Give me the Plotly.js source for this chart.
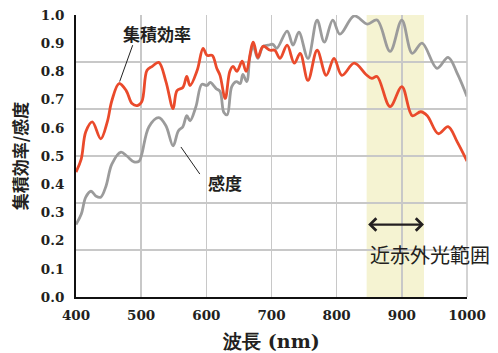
<!DOCTYPE html>
<html><head><meta charset="utf-8">
<script src="https://cdn.plot.ly/plotly-3.0.1.min.js"></script>
<style>html,body{margin:0;padding:0;background:#fff;}#chart{width:498px;height:353px;}</style>
</head><body><div id="chart"></div>
<script>
// 集積効率 (collection efficiency)
const effWavelength = [400,408,415,425,438,448,455,466,477,486,494,501,509,517,527,538,549,555,564,570,575,586,595,601,609,616,621,629,636,641,647,655,661,672,679,687,698,705,713,724,735,744,756,770,784,796,808,827,845,854,862,882,900,916,929,939,956,971,985,1000];
const effValues = [0.443,0.489,0.586,0.621,0.561,0.621,0.696,0.757,0.732,0.686,0.679,0.693,0.804,0.818,0.832,0.764,0.668,0.732,0.743,0.782,0.75,0.804,0.882,0.857,0.857,0.811,0.786,0.704,0.8,0.818,0.8,0.836,0.8,0.904,0.85,0.889,0.875,0.875,0.846,0.893,0.829,0.864,0.768,0.875,0.786,0.846,0.786,0.829,0.789,0.775,0.782,0.675,0.746,0.643,0.657,0.643,0.579,0.604,0.55,0.482];
// 感度 (sensitivity)
const sensWavelength = [400,408,415,423,431,438,446,455,469,478,489,497,501,512,527,538,549,557,564,570,575,584,593,601,606,615,621,627,632,639,646,652,656,662,667,672,679,687,695,702,708,724,733,742,756,770,781,794,805,827,847,862,882,900,916,931,954,971,985,1000];
const sensValues = [0.257,0.293,0.354,0.375,0.357,0.354,0.393,0.471,0.514,0.5,0.479,0.482,0.507,0.604,0.636,0.607,0.536,0.589,0.604,0.643,0.625,0.675,0.754,0.75,0.761,0.739,0.729,0.654,0.646,0.746,0.764,0.757,0.789,0.764,0.854,0.889,0.846,0.889,0.893,0.896,0.882,0.943,0.893,0.939,0.846,0.982,0.904,0.982,0.932,0.997,0.968,0.982,0.871,0.982,0.864,0.9,0.811,0.85,0.793,0.711];
const xTicks = [400,500,600,700,800,900,1000];
const yTicks = [0,0.1,0.2,0.3,0.4,0.5,0.6,0.7,0.8,0.9,1.0];
const nirBand = [846, 934];
const labels = {eff:'集積効率', sens:'感度', nir:'近赤外光範囲', xTitle:'波長 (nm)', yTitle:'集積効率/感度'};

const serif = 'DejaVu Serif';
const jp = 'Noto Sans CJK JP';
const ink = '#231f20';

const traces = [
  {x: sensWavelength, y: sensValues, type:'scatter', mode:'lines', name:labels.sens,
   line:{color:'#9b9b9b', width:2.8, shape:'spline', smoothing:1}},
  {x: effWavelength, y: effValues, type:'scatter', mode:'lines', name:labels.eff,
   line:{color:'#ea4a2b', width:2.8, shape:'spline', smoothing:1}},
  {x:[], y:[], yaxis:'y2', type:'scatter', showlegend:false}
];

const layout = {
  width:498, height:353,
  margin:{l:76, r:31, t:15, b:56},
  paper_bgcolor:'#fff', plot_bgcolor:'#fff',
  showlegend:false,
  xaxis:{range:[400,1000], tickvals:xTicks, showgrid:true, gridcolor:'#c8c8c8', gridwidth:1.6,
    zeroline:false, showline:true, linecolor:'#111', linewidth:2, ticks:'',
    ticklabelstandoff:5,
    tickfont:{family:serif, size:13.5, weight:'bold', color:ink},
    title:{text:labels.xTitle, font:{family:serif, size:19, weight:'bold', color:ink}, standoff:12}},
  yaxis:{range:[0,1.0], tickvals:yTicks, tickformat:'.1f', showgrid:false, zeroline:false,
    showline:true, linecolor:'#111', linewidth:2, ticks:'', ticklabelstandoff:7,
    tickfont:{family:serif, size:13.5, weight:'bold', color:ink},
    title:{text:labels.yTitle, font:{family:jp, size:17, weight:'bold', color:ink}, standoff:9}},
  yaxis2:{overlaying:'y', range:[0,1.0], tick0:0, dtick:1/6, showgrid:true, gridcolor:'#c8c8c8', gridwidth:1.6,
    showticklabels:false, zeroline:false, showline:false, ticks:''},
  shapes:[
    {type:'rect', xref:'x', yref:'paper', x0:nirBand[0], x1:nirBand[1], y0:0, y1:1,
     fillcolor:'#f5f3d2', line:{width:0}, layer:'below'},
    {type:'line', xref:'paper', yref:'paper', x0:1, x1:1, y0:0, y1:1, line:{color:'#c8c8c8', width:1.6}},
    {type:'line', xref:'x', yref:'y', x0:487, y0:0.893, x1:467, y1:0.764, line:{color:'#222', width:1}},
    {type:'line', xref:'x', yref:'y', x0:561, y0:0.532, x1:590, y1:0.436, line:{color:'#222', width:1}}
  ],
  annotations:[
    {x:524, y:0.936, xref:'x', yref:'y', text:labels.eff, showarrow:false,
     font:{family:jp, size:17, weight:'bold', color:ink}},
    {x:629, y:0.407, xref:'x', yref:'y', text:labels.sens, showarrow:false,
     font:{family:jp, size:17, weight:'bold', color:ink}},
    {x:nirBand[1], y:0.257, ax:nirBand[0], ay:0.257, xref:'x', yref:'y', axref:'x', ayref:'y',
     text:'', showarrow:true, arrowside:'end+start', arrowhead:4, startarrowhead:4,
     arrowsize:1.1, startarrowsize:1.1, arrowwidth:2.2, arrowcolor:ink},
    {x:943, y:0.15, xref:'x', yref:'y', text:labels.nir, showarrow:false,
     font:{family:jp, size:20, color:ink}}
  ]
};

Plotly.newPlot('chart', traces, layout, {displayModeBar:false, staticPlot:true});
</script></body></html>
